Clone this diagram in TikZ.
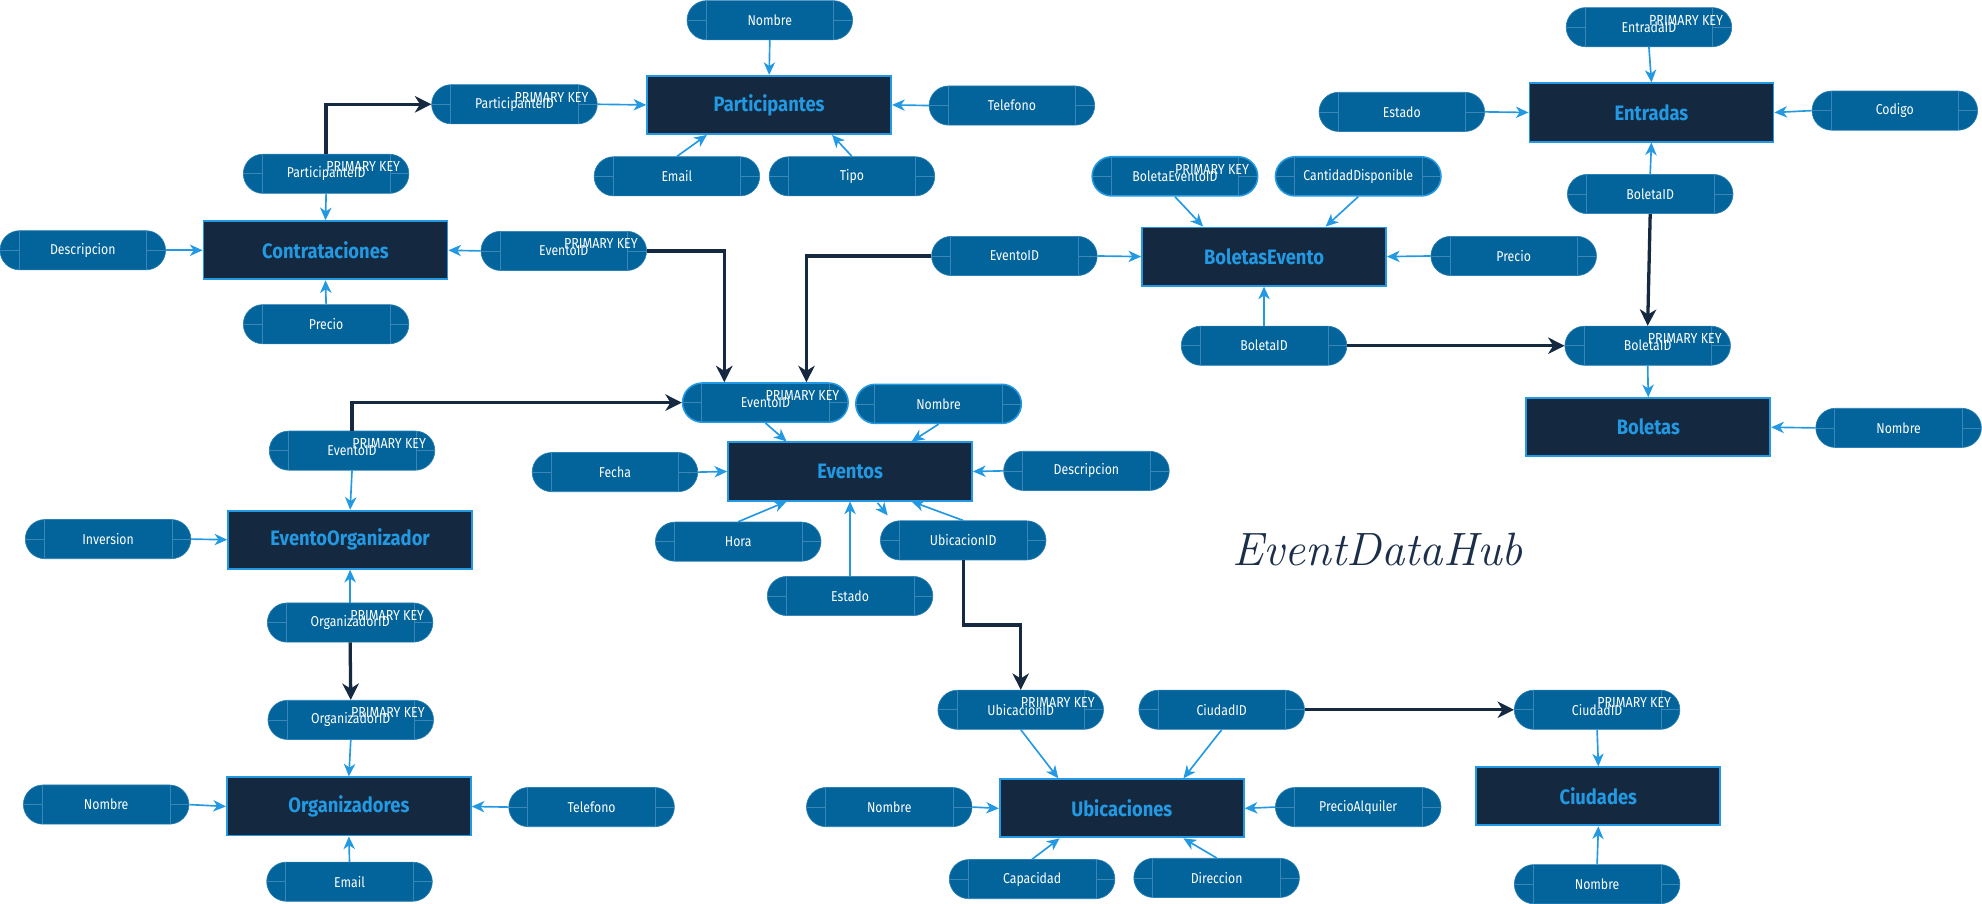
\documentclass[tikz,border=0pt]{standalone}
\usepackage{fontspec}
\usetikzlibrary{arrows.meta,shapes.misc,calc}
\newfontfamily\attrfont[FakeStretch=0.86]{Fira Sans}
\newfontfamily\entfont[FakeStretch=0.88]{Fira Sans}
\definecolor{attrfill}{HTML}{02649A}
\definecolor{attredge}{HTML}{2A80B8}
\definecolor{attrdeco}{HTML}{3A86B6}
\definecolor{entfill}{HTML}{14293F}
\definecolor{entblue}{HTML}{2299E2}
\definecolor{fkdark}{HTML}{152940}
\definecolor{titlecol}{HTML}{1B2F4A}
\tikzset{
  attr/.style={rounded rectangle, minimum width=131pt, minimum height=31pt, inner sep=0pt,
    fill=attrfill, draw=attredge, line width=0.5pt, text=white,
    font=\attrfont\fontsize{11.3}{13}\selectfont,
    path picture={
      \draw[attrdeco, line width=0.5pt] ([xshift=15pt]path picture bounding box.south west) -- ([xshift=15pt]path picture bounding box.north west);
      \draw[attrdeco, line width=0.5pt] ([xshift=-15pt]path picture bounding box.south east) -- ([xshift=-15pt]path picture bounding box.north east);
      \draw[attrdeco, line width=0.5pt] (path picture bounding box.west) -- ([xshift=15pt]path picture bounding box.west);
      \draw[attrdeco, line width=0.5pt] (path picture bounding box.east) -- ([xshift=-15pt]path picture bounding box.east);
    }},
  sel/.style={draw=entblue, line width=1.2pt},
  pklbl/.style={anchor=west, yshift=5.5pt, text=white, inner sep=0pt,
    font=\attrfont\fontsize{11.5}{13}\selectfont},
  pk/.style={append after command={node[pklbl] at (\tikzlastnode.center) {PRIMARY KEY}}},
  ent/.style={rectangle, minimum width=193pt, minimum height=46pt, inner sep=0pt,
    fill=entfill, draw=entblue, line width=1.5pt, text=entblue,
    font=\entfont\bfseries\fontsize{16.5}{19}\selectfont},
  lt/.style={draw=entblue, line width=1.3pt, -{Stealth[length=10pt,width=9pt,inset=3pt]}},
  dk/.style={draw=fkdark, line width=2.6pt, -{Stealth[length=13pt,width=13pt,inset=4pt]}},
  hub/.style={text=titlecol, font=\itshape\fontsize{37}{42}\selectfont, inner sep=0pt}
}
\begin{document}
\begin{tikzpicture}[x=1pt,y=-1pt]
\useasboundingbox (0,0) rectangle (1568,715);

% Participantes
\node[ent] (part) at (608.5,83) {Participantes};
\node[attr] (pNom) at (609,16) {Nombre};
\node[attr] (pTel) at (800.5,83.5) {Telefono};
\node[attr,pk] (pPK) at (407,82.5) {ParticipanteID};
\node[attr] (pEmail) at (535.5,139.5) {Email};
\node[attr] (pTipo) at (674,139.5) {Tipo};

% Contrataciones
\node[ent] (con) at (257.5,198) {Contrataciones};
\node[attr,pk] (cPart) at (258,137.5) {ParticipanteID};
\node[attr] (cDesc) at (65.5,198) {Descripcion};
\node[attr,pk] (cEvt) at (446,198.5) {EventoID};
\node[attr] (cPrec) at (258,256.5) {Precio};

% Eventos
\node[ent] (evt) at (672.5,373) {Eventos};
\node[attr,sel,pk] (ePK) at (605.5,318.5) {EventoID};
\node[attr,sel] (eNom) at (742.5,319.5) {Nombre};
\node[attr] (eFecha) at (486.5,373.5) {Fecha};
\node[attr] (eDesc) at (859.5,372.5) {Descripcion};
\node[attr] (eHora) at (584,428.5) {Hora};
\node[attr] (eUbic) at (762,427.5) {UbicacionID};
\node[attr] (eEstado) at (672.5,471.5) {Estado};

% EventoOrganizador / Organizadores
\node[ent] (eo) at (277,427) {EventoOrganizador};
\node[attr,pk] (eoEvt) at (278.5,356.5) {EventoID};
\node[attr] (eoInv) at (85.5,426.5) {Inversion};
\node[attr,pk] (eoOrg) at (277,492.5) {OrganizadorID};
\node[attr,pk] (oOrg) at (277.5,569.5) {OrganizadorID};
\node[ent] (org) at (276,638) {Organizadores};
\node[attr] (oNom) at (84,636.5) {Nombre};
\node[attr] (oTel) at (468,638.5) {Telefono};
\node[attr] (oEmail) at (276.5,697.5) {Email};

% BoletasEvento
\node[ent] (be) at (1000,203) {BoletasEvento};
\node[attr,sel,pk] (beID) at (929.5,139.5) {BoletaEventoID};
\node[attr,sel] (beCant) at (1074.5,139.5) {CantidadDisponible};
\node[attr] (beEvt) at (802.5,202.5) {EventoID};
\node[attr] (bePrec) at (1197.5,202.5) {Precio};
\node[attr] (beBol) at (1000,273.5) {BoletaID};

% Entradas / Boletas
\node[ent] (ent) at (1306.5,89) {Entradas};
\node[attr,pk] (enID) at (1304.5,21.5) {EntradaID};
\node[attr] (enEst) at (1109,88.5) {Estado};
\node[attr] (enCod) at (1499,87.5) {Codigo};
\node[attr] (enBol) at (1305.5,153.5) {BoletaID};
\node[ent] (bol) at (1304,338) {Boletas};
\node[attr,pk] (bolPK) at (1303.5,273.5) {BoletaID};
\node[attr] (bolNom) at (1502,338.5) {Nombre};

% Ubicaciones / Ciudades
\node[ent] (ubi) at (887.5,639.5) {Ubicaciones};
\node[attr,pk] (uPK) at (807.5,561.5) {UbicacionID};
\node[attr] (uCiu) at (966.5,561.5) {CiudadID};
\node[attr] (uNom) at (703.5,638.5) {Nombre};
\node[attr] (uPrec) at (1074.5,638.5) {PrecioAlquiler};
\node[attr] (uCap) at (816.5,695.5) {Capacidad};
\node[attr] (uDir) at (962.5,694.5) {Direccion};
\node[ent] (ciu) at (1264.5,630) {Ciudades};
\node[attr,pk] (ciPK) at (1263.5,561.5) {CiudadID};
\node[attr] (ciNom) at (1263.5,699.5) {Nombre};

\node[hub, anchor=base] (title) at (1090,447) {EventDataHub};

% attribute connectors
\draw[lt] (pNom.south) -- (part.north);
\draw[lt] (pTel.west) -- (part.east);
\draw[lt] (pPK.east) -- (part.west);
\draw[lt] (pEmail.north) -- ($(part.south west)+(48,0)$);
\draw[lt] (pTipo.north) -- ($(part.south west)+(147,0)$);

\draw[lt] (cPart.south) -- (con.north);
\draw[lt] (cDesc.east) -- (con.west);
\draw[lt] (cEvt.west) -- (con.east);
\draw[lt] (cPrec.north) -- (con.south);

\draw[lt] (ePK.south) -- ($(evt.north west)+(47,0)$);
\draw[lt] (eNom.south) -- ($(evt.north west)+(146,0)$);
\draw[lt] (eFecha.east) -- (evt.west);
\draw[lt] (eDesc.west) -- (evt.east);
\draw[lt] (eHora.north) -- ($(evt.south west)+(47,0)$);
\draw[lt] (eUbic.north) -- ($(evt.south west)+(146,0)$);
\draw[lt] (eEstado.north) -- (evt.south);
\draw[lt] ($(evt.south west)+(119,1)$) -- ($(evt.south west)+(127,11)$);

\draw[lt] (eoEvt.south) -- (eo.north);
\draw[lt] (eoInv.east) -- (eo.west);
\draw[lt] (eoOrg.north) -- (eo.south);
\draw[lt] (oOrg.south) -- (org.north);
\draw[lt] (oNom.east) -- (org.west);
\draw[lt] (oTel.west) -- (org.east);
\draw[lt] (oEmail.north) -- (org.south);

\draw[lt] (beID.south) -- ($(be.north west)+(49,0)$);
\draw[lt] (beCant.south) -- ($(be.north west)+(146,0)$);
\draw[lt] (beEvt.east) -- (be.west);
\draw[lt] (bePrec.west) -- (be.east);
\draw[lt] (beBol.north) -- (be.south);

\draw[lt] (enID.south) -- (ent.north);
\draw[lt] (enEst.east) -- (ent.west);
\draw[lt] (enCod.west) -- (ent.east);
\draw[lt] (enBol.north) -- (ent.south);
\draw[lt] (bolPK.south) -- (bol.north);
\draw[lt] (bolNom.west) -- (bol.east);

\draw[lt] (uPK.south) -- ($(ubi.north west)+(47,0)$);
\draw[lt] (uCiu.south) -- ($(ubi.north west)+(146,0)$);
\draw[lt] (uNom.east) -- (ubi.west);
\draw[lt] (uPrec.west) -- (ubi.east);
\draw[lt] (uCap.north) -- ($(ubi.south west)+(48,0)$);
\draw[lt] (uDir.north) -- ($(ubi.south west)+(146,0)$);
\draw[lt] (ciPK.south) -- (ciu.north);
\draw[lt] (ciNom.north) -- (ciu.south);

% foreign key connectors
\draw[dk] (cPart.north) |- (pPK.west);
\draw[dk] (cEvt.east) -| ($(ePK.north)+(-32.5,0)$);
\draw[dk] (beEvt.west) -| ($(ePK.north)+(32.5,0)$);
\draw[dk] (eoEvt.north) |- (ePK.west);
\draw[dk] (eoOrg.south) -- (oOrg.north);
\draw[dk] (eUbic.south) |- ($(eUbic.south)!0.5!(uPK.north)$) -| (uPK.north);
\draw[dk] (uCiu.east) -- (ciPK.west);
\draw[dk] (beBol.east) -- (bolPK.west);
\draw[dk] (enBol.south) -- (bolPK.north);
\end{tikzpicture}
\end{document}
